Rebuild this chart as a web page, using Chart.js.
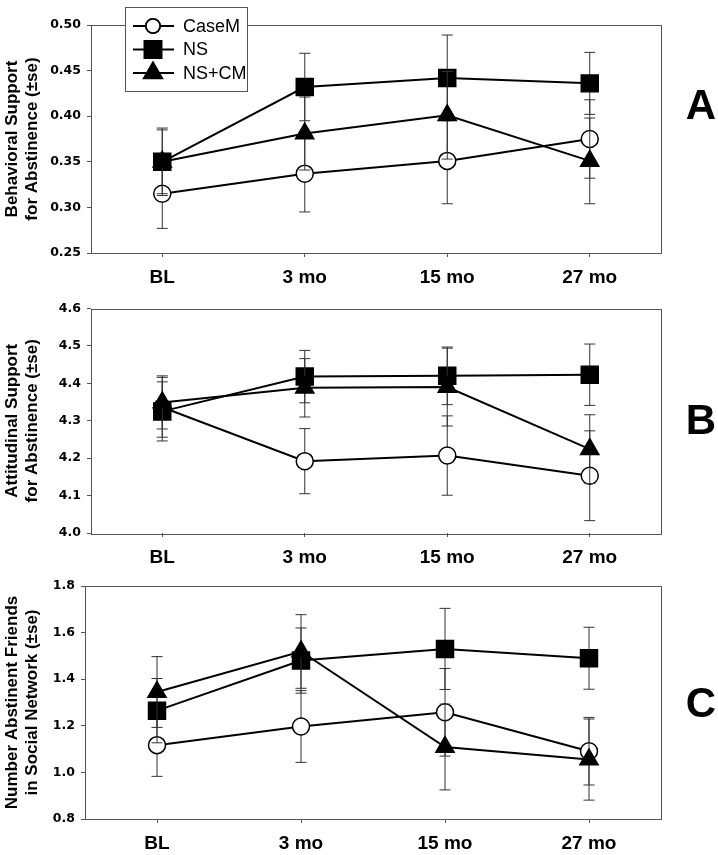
<!DOCTYPE html>
<html>
<head>
<meta charset="utf-8">
<script src="https://cdn.jsdelivr.net/npm/chart.js@4.4.0/dist/chart.umd.min.js"></script>
<style>
  body { margin: 0; background: #fff; width: 718px; height: 855px; position: relative; overflow: hidden; }
  canvas { position: absolute; left: 0; }
</style>
</head>
<body>
<canvas id="chartA" width="718" height="295" style="top:0px"></canvas>
<canvas id="chartB" width="718" height="277" style="top:295px"></canvas>
<canvas id="chartC" width="718" height="283" style="top:572px"></canvas>
<script>
let categories = ['BL', '3 mo', '15 mo', '27 mo'];
let seriesNames = ['CaseM', 'NS', 'NS+CM'];

// panel A - behavioral support
let caseA = [0.315, 0.337, 0.351, 0.375];
let caseSeA = [0.038, 0.042, 0.047, 0.043];
let nsA = [0.350, 0.432, 0.442, 0.436];
let nsSeA = [0.037, 0.037, 0.047, 0.034];
let nscmA = [0.350, 0.381, 0.401, 0.351];
let nscmSeA = [0.035, 0.040, 0.048, 0.047];
let ticksA = [0.25, 0.30, 0.35, 0.40, 0.45, 0.50];

// panel B - attitudinal support
let caseB = [4.336, 4.192, 4.207, 4.153];
let caseSeB = [0.080, 0.087, 0.106, 0.120];
let nsB = [4.325, 4.418, 4.420, 4.423];
let nsSeB = [0.079, 0.070, 0.077, 0.082];
let nscmB = [4.349, 4.388, 4.390, 4.224];
let nscmSeB = [0.071, 0.078, 0.104, 0.092];
let ticksB = [4.0, 4.1, 4.2, 4.3, 4.4, 4.5, 4.6];

// panel C - abstinent friends
let caseC = [1.117, 1.197, 1.258, 1.091];
let caseSeC = [0.134, 0.154, 0.188, 0.145];
let nsC = [1.265, 1.480, 1.530, 1.490];
let nsSeC = [0.138, 0.140, 0.174, 0.133];
let nscmC = [1.345, 1.519, 1.109, 1.055];
let nscmSeC = [0.152, 0.158, 0.184, 0.174];
let ticksC = [0.8, 1.0, 1.2, 1.4, 1.6, 1.8];

const FONT = "'Liberation Sans', Arial, sans-serif";
const FRAME = '#555';

// error bars, drawn just before each dataset so later series sit on top
const errorBars = {
    id: 'errorBars',
    beforeDatasetDraw(chart, args) {
        const ds = chart.data.datasets[args.index];
        if (!ds.se) return;
        const ctx = chart.ctx;
        const y = chart.scales.y;
        ctx.save();
        ctx.strokeStyle = '#333';
        ctx.lineWidth = 1;
        args.meta.data.forEach((pt, i) => {
            const top = y.getPixelForValue(ds.data[i] + ds.se[i]);
            const bot = y.getPixelForValue(ds.data[i] - ds.se[i]);
            ctx.beginPath();
            ctx.moveTo(pt.x, top); ctx.lineTo(pt.x, bot);
            ctx.moveTo(pt.x - 5.5, top); ctx.lineTo(pt.x + 5.5, top);
            ctx.moveTo(pt.x - 5.5, bot); ctx.lineTo(pt.x + 5.5, bot);
            ctx.stroke();
        });
        ctx.restore();
    }
};

// box around the plot area
const frame = {
    id: 'frame',
    beforeDatasetsDraw(chart) {
        const a = chart.chartArea, ctx = chart.ctx;
        ctx.save();
        ctx.strokeStyle = FRAME;
        ctx.lineWidth = 1;
        ctx.strokeRect(Math.round(a.left) + 0.5, Math.round(a.top) + 0.5,
            Math.round(a.right - a.left), Math.round(a.bottom - a.top));
        ctx.restore();
    }
};

// panel letter + optional boxed legend
const extras = {
    id: 'extras',
    afterDraw(chart, args, opts) {
        const ctx = chart.ctx;
        ctx.save();
        ctx.fillStyle = '#000';
        ctx.font = 'bold 42px ' + FONT;
        ctx.textAlign = 'center';
        ctx.textBaseline = 'middle';
        ctx.fillText(opts.letter, 701, opts.letterY);
        if (opts.legend) {
            ctx.fillStyle = '#fff';
            ctx.fillRect(125, 7, 122, 84);
            ctx.strokeStyle = FRAME;
            ctx.lineWidth = 1;
            ctx.strokeRect(125.5, 7.5, 122, 84);
            const rows = [26, 49.5, 73];
            chart.data.datasets.forEach((ds, i) => {
                const yy = rows[i];
                ctx.strokeStyle = '#000';
                ctx.lineWidth = 2;
                ctx.beginPath();
                ctx.moveTo(133, yy); ctx.lineTo(174, yy);
                ctx.stroke();
                Chart.helpers.drawPoint(ctx, {
                    pointStyle: ds.pointStyle, radius: ds.pointStyle === 'circle' ? 7 : ds.pointRadius,
                    borderWidth: 1.5
                }, 153, yy);
                ctx.fillStyle = ds.pointBackgroundColor;
                ctx.strokeStyle = '#000';
                ctx.lineWidth = 1.5;
                ctx.beginPath();
                if (ds.pointStyle === 'circle') {
                    ctx.arc(153, yy, 7, 0, Math.PI * 2);
                    ctx.fill(); ctx.stroke();
                }
                ctx.fillStyle = '#000';
                ctx.font = '18px ' + FONT;
                ctx.textAlign = 'left';
                ctx.fillText(ds.label, 183, yy + 1);
            });
        }
        ctx.restore();
    }
};

function makeSeries(vals, se, i) {
    const styles = ['circle', 'rect', 'triangle'];
    const radii = [8.5, 12, 10.5];
    return {
        label: seriesNames[i],
        data: vals,
        se: se,
        order: 3 - i,
        borderColor: '#000',
        borderWidth: 2,
        pointStyle: styles[i],
        pointRadius: radii[i],
        pointHoverRadius: radii[i],
        pointBackgroundColor: i === 0 ? '#fff' : '#000',
        pointBorderColor: '#000',
        pointBorderWidth: 1.5,
        tension: 0
    };
}

function makePanel(id, series, ses, ticks, decimals, title, o) {
    new Chart(document.getElementById(id), {
        type: 'line',
        data: {
            labels: categories,
            datasets: series.map((s, i) => makeSeries(s, ses[i], i))
        },
        options: {
            responsive: false,
            animation: false,
            devicePixelRatio: 1,
            layout: { padding: { left: 0, right: 57, top: o.padTop, bottom: 0 } },
            plugins: {
                legend: { display: false },
                tooltip: { enabled: false },
                extras: { letter: o.letter, letterY: o.letterY, legend: o.legend }
            },
            scales: {
                x: {
                    type: 'category',
                    offset: true,
                    grid: { offset: false, drawOnChartArea: false, tickLength: 4, color: FRAME },
                    border: { display: false },
                    ticks: { color: '#000', padding: 9, font: { family: FONT, size: 19, weight: 'bold' } },
                    afterFit: s => { s.height = o.xHeight; }
                },
                y: {
                    min: ticks[0],
                    max: ticks[ticks.length - 1],
                    afterBuildTicks: s => { s.ticks = ticks.map(v => ({ value: v })); },
                    grid: { drawOnChartArea: false, tickLength: 4, color: FRAME },
                    border: { display: false },
                    ticks: {
                        color: '#000', padding: 6,
                        font: { family: "'DejaVu Sans', sans-serif", size: 12.5, weight: 'bold' },
                        callback: v => Number(v).toFixed(decimals)
                    },
                    title: {
                        display: true, text: title, color: '#000',
                        padding: { top: 3, bottom: 0 },
                        font: { family: FONT, size: 17, weight: 'bold', lineHeight: 1.14 }
                    },
                    afterFit: s => { s.width = o.yWidth; }
                }
            }
        },
        plugins: [frame, errorBars, extras]
    });
}

makePanel('chartA', [caseA, nsA, nscmA], [caseSeA, nsSeA, nscmSeA], ticksA, 2,
    ['Behavioral Support', 'for Abstinence (\u00b1se)'],
    { padTop: 25, xHeight: 42, yWidth: 91, letter: 'A', letterY: 107, legend: true });

makePanel('chartB', [caseB, nsB, nscmB], [caseSeB, nsSeB, nscmSeB], ticksB, 1,
    ['Attitudinal Support', 'for Abstinence (\u00b1se)'],
    { padTop: 9, xHeight: 39, yWidth: 91, letter: 'B', letterY: 422 - 295, legend: false });

makePanel('chartC', [caseC, nsC, nscmC], [caseSeC, nsSeC, nscmSeC], ticksC, 1,
    ['Number Abstinent Friends', 'in Social Network (\u00b1se)'],
    { padTop: 14, xHeight: 36, yWidth: 85, letter: 'C', letterY: 705 - 572, legend: false });
</script>
</body>
</html>
